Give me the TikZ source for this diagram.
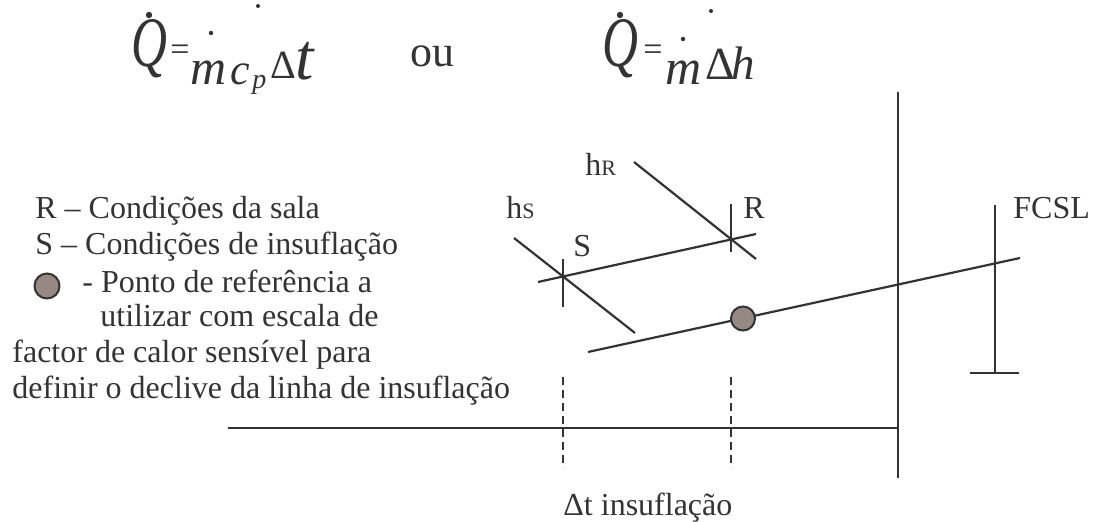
\documentclass[tikz,border=0pt]{standalone}
\usepackage{fontspec}
\usepackage{graphicx}
\setmainfont{Liberation Serif}
\usetikzlibrary{positioning}

\definecolor{ink}{HTML}{333333}
\definecolor{pontocor}{HTML}{968883}

\tikzset{
  lbl/.style={inner sep=0pt, anchor=base west, text=ink, font=\fontsize{16}{19}\selectfont},
  eq/.style={inner sep=0pt, anchor=base west, text=ink},
  linha/.style={draw=ink, line width=1.1pt},
  guia/.style={draw=ink, line width=1pt, dash pattern=on 4pt off 2.5pt},
  ponto/.style={circle, draw=ink, fill=pontocor, line width=1pt, minimum size=12pt, inner sep=0pt},
}

\begin{document}
\begin{tikzpicture}[x=0.5pt,y=-0.5pt]
        \useasboundingbox (0,0) rectangle (1095,522);
        % ==== EQUATIONS ====
        \node[eq, font=\fontsize{35.5}{36}\selectfont\itshape] (q1) at (131,67) {\scalebox{0.7}[1]{Q}};
        \fill[ink] (149,15) circle (1.6pt);
        \node[eq, font=\fontsize{17}{18}\selectfont] (eq1) at (170,61) {=};
        \node[eq, font=\fontsize{25}{26}\selectfont\itshape] (m1) at (190,85) {m};
        \fill[ink] (211,33) circle (1.1pt);
        \node[eq, font=\fontsize{22}{23}\selectfont\itshape] (c1) at (230,85) {c};
        \node[eq, font=\fontsize{14}{15}\selectfont\itshape] (p1) at (252,89) {p};
        \node[eq, font=\fontsize{20}{21}\selectfont] (dt1) at (270,79) {Δ};
        \node[eq, font=\fontsize{33}{34}\selectfont\itshape] (t1) at (295,80) {t};
        \fill[ink] (258,6) circle (1pt);
        \node[eq, font=\fontsize{22}{23}\selectfont] (ou) at (410,67) {ou};
        \node[eq, font=\fontsize{35.5}{36}\selectfont\itshape] (q2) at (602,67) {\scalebox{0.7}[1]{Q}};
        \fill[ink] (620,15) circle (1.6pt);
        \node[eq, font=\fontsize{17}{18}\selectfont] (eq2) at (643,61) {=};
        \node[eq, font=\fontsize{25}{26}\selectfont\itshape] (m2) at (665,85) {m};
        \fill[ink] (683,39) circle (1.1pt);
        \node[eq, font=\fontsize{23}{24}\selectfont] (dh2) at (705,80) {Δ};
        \node[eq, font=\fontsize{23.5}{24}\selectfont\itshape] (h2) at (731,80) {h};
        \fill[ink] (711,11) circle (1pt);

        % ==== LEGEND ====
        \node[lbl] (legR) at (35,219) {R – Condições da sala};
        \node[lbl] (legS) at (35,255) {S – Condições de insuflação};
        \node[ponto, minimum size=12.5pt] (legP) at (47,286) {};
        \node[lbl] (leg1) at (82,293) {- Ponto de referência a};
        \node[lbl] (leg2) at (100,327) {utilizar com escala de};
        \node[lbl] (leg3) at (12,363) {factor de calor sensível para};
        \node[lbl] (leg4) at (12,399) {definir o declive da linha de insuflação};

        % ==== CHART ====
        \coordinate (eixoA) at (228,428);
        \coordinate (eixoB) at (898,428);
        \coordinate (vertA) at (898,92);
        \coordinate (vertB) at (898,478);
        \draw[linha] (eixoA) -- (eixoB);
        \draw[linha] (vertA) -- (vertB);
        % room / supply line
        \coordinate (srA) at (538,282);
        \coordinate (srB) at (756,234);
        \draw[linha] (srA) -- (srB);
        \coordinate (hsA) at (514,238);
        \coordinate (hsB) at (635,333);
        \draw[linha] (hsA) -- (hsB);
        \coordinate (hrA) at (634,162);
        \coordinate (hrB) at (756,259);
        \draw[linha] (hrA) -- (hrB);
        \coordinate (sTop) at (563,259);
        \coordinate (sBot) at (563,307);
        \draw[linha] (sTop) -- (sBot);
        \coordinate (rTop) at (731,204);
        \coordinate (rBot) at (731,252);
        \draw[linha] (rTop) -- (rBot);
        % dashed guides
        \coordinate (gsA) at (563,377);
        \coordinate (gsB) at (563,468);
        \coordinate (grA) at (731,377);
        \coordinate (grB) at (731,468);
        \draw[guia] (gsA) -- (gsB);
        \draw[guia] (grA) -- (grB);
        % sensible heat factor line
        \coordinate (fcA) at (588,352);
        \coordinate (fcB) at (1020,258);
        \draw[linha] (fcA) -- (fcB);
        \node[ponto] (ref) at (743,318.5) {};
        \coordinate (escTop) at (995,205);
        \coordinate (escBot) at (995,373);
        \coordinate (baseA) at (970,373);
        \coordinate (baseB) at (1019,373);
        \draw[linha] (escTop) -- (escBot);
        \draw[linha] (baseA) -- (baseB);

        % ==== LABELS ====
        \node[lbl] (hs) at (506,219) {h{\fontsize{11}{12}\selectfont S}};
        \node[lbl] (hr) at (585,176) {h{\fontsize{11}{12}\selectfont R}};
        \node[lbl] (ptS) at (573,257) {S};
        \node[lbl] (ptR) at (743,219) {R};
        \node[lbl] (fcsl) at (1013,219) {FCSL};
        \node[lbl] (dtins) at (563,515) {Δt insuflação};
\end{tikzpicture}
\end{document}
